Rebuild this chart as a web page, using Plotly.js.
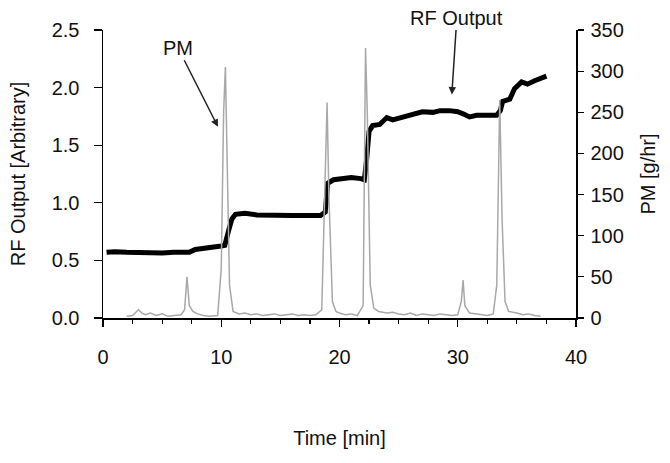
<!DOCTYPE html>
<html>
<head>
<meta charset="utf-8">
<script src="https://cdn.plot.ly/plotly-3.0.1.min.js"></script>
<style>html,body{margin:0;padding:0;background:#fff;}#chart{width:670px;height:463px;}</style>
</head>
<body>
<div id="chart"></div>
<script>
// RF output (left axis, arbitrary units)
const rfTime = [0.3,1,2,3,4,5,6,7,7.3,7.8,8.5,9.2,10.0,10.3,10.6,10.9,11.2,12,13,14,15,16,17,18.4,18.8,19.0,19.5,20.2,21,21.8,22.1,22.3,22.5,22.8,23.4,24.0,24.5,25.2,26.0,27.0,27.9,28.5,29.3,30.0,30.5,31.0,31.6,32.5,33.3,33.6,33.8,34.4,34.8,35.4,35.9,36.5,37.0,37.5];
const rfValue = [0.57,0.575,0.57,0.565,0.565,0.565,0.57,0.565,0.57,0.595,0.60,0.615,0.625,0.63,0.75,0.86,0.9,0.91,0.895,0.89,0.89,0.89,0.89,0.89,0.92,1.17,1.2,1.21,1.22,1.21,1.2,1.38,1.62,1.67,1.68,1.74,1.72,1.74,1.76,1.79,1.785,1.8,1.8,1.79,1.77,1.745,1.76,1.76,1.76,1.8,1.88,1.9,1.99,2.05,2.03,2.06,2.08,2.1];

// PM (right axis, g/hr)
const pmTime = [2.0,2.5,3.0,3.3,3.6,4.0,4.5,5.0,5.5,6.0,6.6,6.9,7.1,7.3,7.6,8.0,8.5,9.0,9.7,10.0,10.2,10.35,10.5,10.7,11.0,11.5,12.0,12.5,13.0,13.5,14.0,14.5,15.0,15.5,16.0,16.5,17.0,17.5,18.0,18.5,18.8,18.95,19.1,19.4,19.7,20.0,20.5,21.0,21.5,22.0,22.2,22.35,22.6,22.9,23.3,24.0,24.5,25.0,25.5,26.0,26.5,27.0,27.5,28.0,28.5,29.0,29.5,30.0,30.3,30.45,30.6,31.0,31.5,32.0,32.5,33.0,33.3,33.55,33.75,34.0,34.3,35.0,35.5,36.0,36.5,37.0];
const pmValue = [2,3,10,6,4,6,3,5,2,3,4,10,50,15,8,5,3,2,3,60,250,305,200,40,8,5,6,4,5,3,4,5,3,4,5,3,4,3,4,10,200,262,150,20,8,6,4,5,3,15,328,250,40,12,8,6,7,5,4,6,3,5,4,3,5,4,3,4,20,46,15,6,5,4,3,5,40,265,120,20,8,6,4,5,3,2];

const xTicks = [0,10,20,30,40];
const yLeftTicks = [0,0.5,1,1.5,2,2.5];
const yLeftText = ['0.0','0.5','1.0','1.5','2.0','2.5'];
const yRightTicks = [0,50,100,150,200,250,300,350];

const font = {family: 'Liberation Sans, Arial, sans-serif', size: 20, color: '#111'};

const traces = [
  {x: pmTime, y: pmValue, yaxis: 'y2', type: 'scatter', mode: 'lines', name: 'PM',
   line: {color: '#a8a8a8', width: 1.5}, hoverinfo: 'skip'},
  {x: rfTime, y: rfValue, type: 'scatter', mode: 'lines', name: 'RF Output',
   line: {color: '#000', width: 5, shape: 'linear'}}
];

const layout = {
  width: 670, height: 463,
  margin: {l: 103, r: 94, t: 30, b: 145},
  paper_bgcolor: '#fff', plot_bgcolor: '#fff',
  showlegend: false,
  font: font,
  xaxis: {
    range: [0, 40], tickvals: xTicks, ticks: 'outside', ticklen: 7, tickwidth: 1.2, tickcolor: '#000',
    ticklabelstandoff: 13,
    showline: true, linecolor: '#000', linewidth: 1.5, showgrid: false, zeroline: false,
    minor: {dtick: 2.5, tick0: 0, ticks: 'outside', ticklen: 4, tickcolor: '#000', showgrid: false},
    title: {text: 'Time [min]', font: font, standoff: 64}
  },
  yaxis: {
    range: [0, 2.5], tickvals: yLeftTicks, ticktext: yLeftText, ticks: 'outside', ticklen: 8, tickwidth: 1.2, tickcolor: '#000',
    ticklabelstandoff: 10,
    showline: true, linecolor: '#000', linewidth: 1.5, showgrid: false, zeroline: false,
    title: {text: 'RF Output [Arbitrary]', font: font, standoff: 20}
  },
  yaxis2: {
    range: [0, 350], tickvals: yRightTicks, overlaying: 'y', side: 'right', anchor: 'x',
    ticks: 'outside', ticklen: 6, tickwidth: 1.2, tickcolor: '#000',
    ticklabelstandoff: 3,
    showline: true, linecolor: '#000', linewidth: 1.5, showgrid: false, zeroline: false,
    title: {text: 'PM [g/hr]', font: font, standoff: 18}
  },
  annotations: [
    {x: 9.72, y: 1.66, xref: 'x', yref: 'y', text: 'PM', showarrow: true,
     ax: -40, ay: -79, arrowhead: 2, arrowsize: 1, arrowwidth: 1.5, arrowcolor: '#222', font: font},
    {x: 29.5, y: 1.94, xref: 'x', yref: 'y', text: 'RF Output', showarrow: true,
     ax: 5, ay: -77, arrowhead: 2, arrowsize: 1, arrowwidth: 1.5, arrowcolor: '#222', font: font}
  ]
};

Plotly.newPlot('chart', traces, layout, {displayModeBar: false, staticPlot: true});
</script>
</body>
</html>
